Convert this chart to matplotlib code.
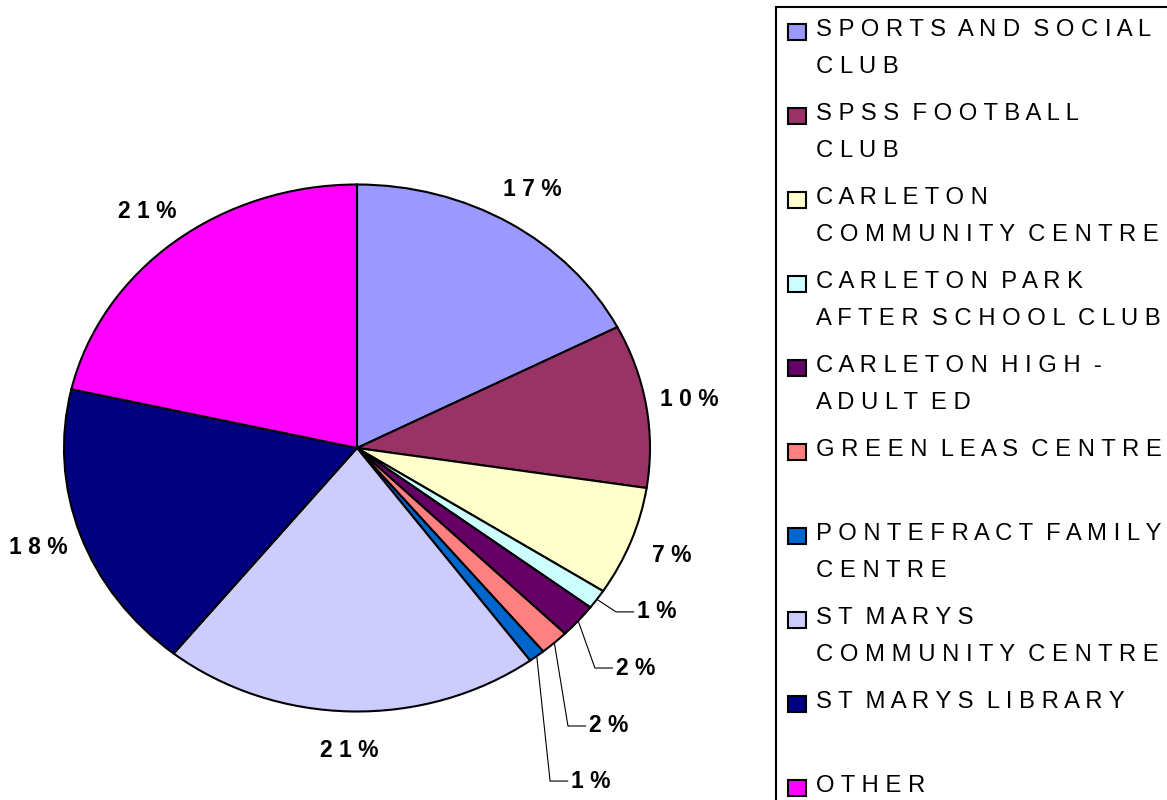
import numpy as np
import matplotlib.pyplot as plt
from matplotlib.patches import Rectangle

# Venue shares (percent), clockwise from 12 o'clock
venues = ['SPORTS AND SOCIAL\nCLUB', 'SPSS FOOTBALL\nCLUB', 'CARLETON\nCOMMUNITY CENTRE',
          'CARLETON PARK\nAFTER SCHOOL CLUB', 'CARLETON HIGH -\nADULT ED', 'GREEN LEAS CENTRE',
          'PONTEFRACT FAMILY\nCENTRE', 'ST MARYS\nCOMMUNITY CENTRE', 'ST MARYS LIBRARY', 'OTHER']
shares = [17.4, 10.0, 6.7, 1.2, 2.1, 1.6, 0.9, 20.8, 17.8, 21.4]
colors = ['#9999FF', '#993366', '#FFFFCC', '#CCFFFF', '#660066',
          '#FF8080', '#0066CC', '#CCCCFF', '#000080', '#FF00FF']

# label spots for the thin slices (pie units), with leader lines
small_label_pos = {3: (1.024, -0.622), 4: (0.952, -0.835), 5: (0.860, -1.055), 6: (0.799, -1.264)}

W, H = 1167, 800
CX, CY, RX, RY = 357, 448, 293, 263.5   # pie centre / radii in pixels
FAMILY = ['Liberation Sans', 'DejaVu Sans']


def spaced(s):
    # wide letter spacing like the original
    return '\n'.join('  '.join(' '.join(w) for w in line.split(' ')) for line in s.split('\n'))


fig = plt.figure(figsize=(W / 100, H / 100), dpi=100)
renderer = fig.canvas.get_renderer()


def fit_size(s, target_px, cap=20):
    t = fig.text(0, 0, s, fontsize=20, family=FAMILY)
    w = t.get_window_extent(renderer).width
    t.remove()
    return min(cap, 20 * target_px / w)


leg_size = fit_size(spaced('SPORTS AND SOCIAL'), 336)
pct_size = 16.5

# axes covering left part so that radius 1 -> RX/RY pixels
ax = fig.add_axes([0, 0, 770 / W, 1])
wedges, _ = ax.pie(shares, colors=colors, startangle=90, counterclock=False,
                   wedgeprops=dict(edgecolor='black', linewidth=1.5))
ax.set_aspect('auto')
ax.set_xlim(-CX / RX, (770 - CX) / RX)
ax.set_ylim((CY - H) / RY, CY / RY)
ax.axis('off')

for i, (w, v) in enumerate(zip(wedges, shares)):
    mid = np.deg2rad((w.theta1 + w.theta2) / 2)
    txt = spaced(f'{round(v)}%')
    if i in small_label_pos:
        lx, ly = small_label_pos[i]
        ex, ey = np.cos(mid), np.sin(mid)
        ax.plot([ex, lx - 0.14, lx - 0.08], [ey, ly, ly], color='black', lw=0.8, clip_on=False)
        ax.text(lx, ly, txt, ha='center', va='center', fontsize=pct_size,
                fontweight='bold', family=FAMILY)
    else:
        r = 1.15
        ax.text(r * np.cos(mid), r * np.sin(mid), txt, ha='center', va='center',
                fontsize=pct_size, fontweight='bold', family=FAMILY)

# legend box, drawn by hand
fig.patches.append(Rectangle((776 / W, -0.1), 0.5, 1.1 - 7 / H, transform=fig.transFigure,
                             facecolor='white', edgecolor='black', linewidth=1.5))
for i, (lab, c) in enumerate(zip(venues, colors)):
    y = 30 + 84 * i
    fig.patches.append(Rectangle((788 / W, 1 - (y + 10) / H), 18 / W, 16 / H, transform=fig.transFigure,
                                 facecolor=c, edgecolor='black', linewidth=1.5))
    for k, line in enumerate(spaced(lab).split('\n')):
        fig.text(816 / W, 1 - (y + 37 * k) / H, line, ha='left', va='center',
                 fontsize=leg_size, family=FAMILY)

plt.savefig('out.png', dpi=100)
